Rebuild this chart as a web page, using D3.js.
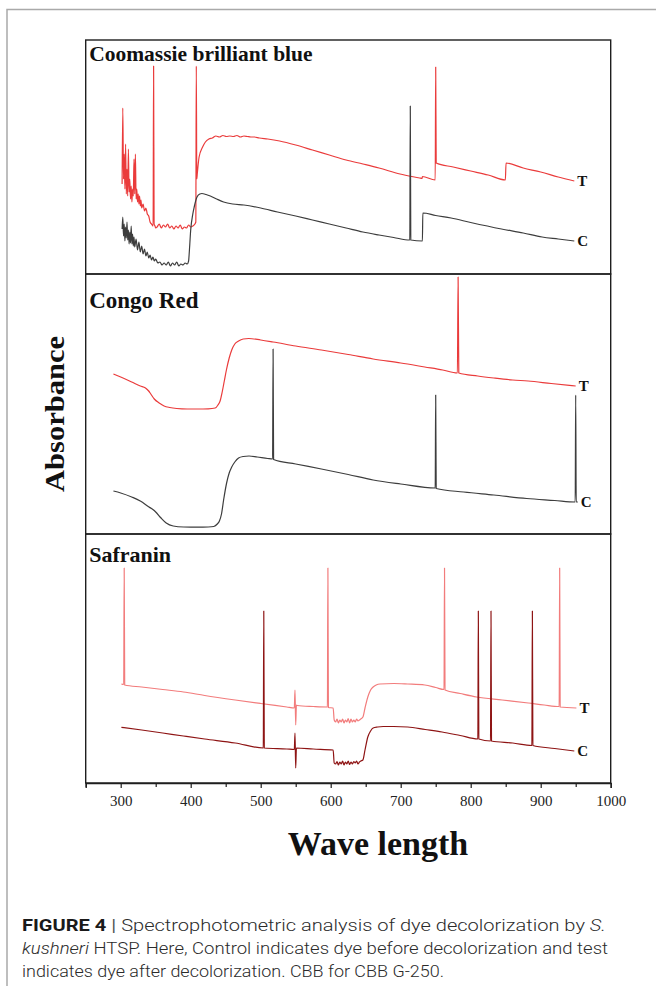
<!DOCTYPE html>
<html>
<head>
<meta charset="utf-8">
<script src="https://cdn.jsdelivr.net/npm/d3@7"></script>
<style>
  html, body { margin: 0; padding: 0; background: #fff; }
  svg { display: block; }
</style>
</head>
<body>
<svg id="fig" width="656" height="986"></svg>
<script>
// ---- data: [wavelength (nm), absorbance (a.u.)] ----
const cbbTest = [[302,0.90],[303,1.66],[304,0.95],[305,1.20],[306,0.85],[307,1.30],[308,0.80],[309,1.05],[310,0.78],[311,1.25],[312,0.82],[313,0.95],[314,0.75],[315,0.88],[316,0.72],[317,0.85],[318,0.78],[319,1.15],[320,0.80],[321,1.20],[322,0.75],[323,0.85],[324,0.72],[325,0.80],[326,0.70],[327,0.78],[328,0.68],[329,0.74],[330,0.66],[332,0.70],[334,0.63],[336,0.66],[338,0.60],[340,0.58],[342,0.52],[344,0.50],[345,0.49],[346.3,0.48],[347,2.08],[347.7,0.50],[349,0.48],[350,0.46],[352,0.47],[355,0.50],[358,0.46],[361,0.49],[364,0.47],[367,0.50],[370,0.46],[373,0.48],[376,0.45],[379,0.48],[382,0.46],[385,0.49],[388,0.45],[391,0.47],[394,0.46],[397,0.49],[400,0.47],[403,0.48],[406,0.50],[407.3,0.52],[408,2.08],[408.7,0.95],[409.5,1.01],[412,1.17],[417,1.27],[421,1.32],[426,1.35],[431,1.36],[436,1.38],[441,1.37],[446,1.385],[451,1.375],[456,1.38],[461,1.375],[466,1.385],[471,1.37],[476,1.38],[481,1.375],[486,1.37],[491,1.37],[498,1.36],[510,1.35],[527,1.33],[550,1.29],[574,1.24],[598,1.19],[622,1.14],[646,1.10],[669,1.06],[699,1.00],[727,0.96],[730.5,0.955],[731,0.975],[749.3,0.94],[750,2.07],[750.7,1.11],[775,1.07],[800,1.03],[825,0.99],[849.5,0.94],[850.5,1.11],[875,1.06],[900,1.02],[925,0.97],[948,0.93]];
const cbbControl = [[302,0.45],[303,0.57],[304,0.38],[305,0.50],[306,0.33],[307,0.47],[308,0.36],[309,0.52],[310,0.34],[311,0.44],[312,0.30],[313,0.42],[314,0.31],[315,0.48],[316,0.30],[317,0.40],[318,0.28],[319,0.37],[320,0.27],[322,0.35],[324,0.24],[326,0.32],[328,0.22],[330,0.28],[332,0.20],[334,0.25],[336,0.18],[338,0.22],[340,0.16],[342,0.19],[344,0.14],[346,0.17],[348,0.13],[350,0.15],[353,0.11],[356,0.12],[359,0.09],[362,0.11],[365,0.09],[368,0.12],[371,0.08],[374,0.11],[377,0.09],[380,0.12],[383,0.08],[386,0.10],[389,0.09],[392,0.11],[395,0.10],[397,0.13],[398,0.22],[400,0.44],[403,0.60],[405,0.67],[409,0.77],[413,0.80],[416,0.805],[422,0.795],[428,0.78],[437,0.75],[447,0.72],[460,0.70],[476,0.69],[500,0.66],[524,0.62],[550,0.58],[574,0.54],[598,0.50],[622,0.46],[646,0.42],[669,0.39],[690,0.365],[713,0.34],[713.7,1.68],[714.4,0.34],[731,0.33],[731.6,0.61],[750,0.585],[772,0.56],[800,0.515],[844,0.45],[875,0.41],[902,0.37],[925,0.35],[948,0.33]];

const congoTest = [[289.6,1.60],[300,1.57],[315.7,1.52],[328,1.48],[335.4,1.46],[340,1.43],[343,1.40],[348,1.35],[355,1.31],[362,1.28],[370,1.265],[380,1.255],[395,1.25],[410,1.25],[425,1.252],[435,1.26],[439,1.29],[442,1.33],[445,1.42],[448,1.53],[451,1.64],[455,1.76],[458.6,1.84],[463,1.90],[468.4,1.93],[475,1.95],[483,1.955],[500,1.94],[517.7,1.92],[550,1.88],[586.7,1.84],[625,1.795],[660.6,1.75],[700,1.71],[734.4,1.67],[760,1.64],[781,1.61],[782,2.57],[783,1.61],[810,1.58],[833,1.56],[860,1.54],[882,1.53],[915,1.505],[950,1.48]];
const congoControl = [[289.6,0.43],[300,0.41],[315.7,0.37],[328,0.33],[340.4,0.27],[346,0.245],[350,0.22],[357.6,0.16],[365,0.11],[375,0.08],[390,0.07],[410,0.068],[425,0.07],[433,0.075],[438,0.10],[441,0.13],[444,0.20],[447,0.34],[451.3,0.51],[455,0.61],[458.6,0.67],[463,0.72],[468.4,0.76],[475,0.775],[483.3,0.78],[495,0.77],[510,0.755],[517,0.75],[517.7,1.85],[518.4,0.745],[550,0.70],[586.7,0.65],[625,0.595],[660.6,0.54],[700,0.50],[749.3,0.46],[750,1.39],[750.7,0.455],[790,0.42],[833,0.39],[880,0.355],[920,0.335],[949.3,0.32],[950,1.39],[950.7,0.32],[953,0.32]];

const safTest = [[301,0.99],[304.3,0.985],[305,2.15],[305.7,0.98],[330,0.96],[360,0.935],[389.6,0.91],[420,0.875],[463.6,0.83],[500,0.795],[537.4,0.76],[548,0.75],[549,0.93],[550,0.58],[551,0.78],[552,0.775],[575,0.765],[595.3,0.76],[596,2.15],[596.7,0.755],[603.5,0.75],[605,0.63],[607,0.61],[609,0.64],[611,0.60],[613,0.63],[615,0.61],[617,0.64],[619,0.60],[621,0.63],[623,0.61],[625,0.645],[627,0.60],[629,0.64],[631,0.61],[633,0.63],[635,0.61],[637,0.64],[639,0.62],[641,0.63],[643,0.64],[646,0.66],[649,0.75],[653,0.86],[657,0.93],[660.6,0.96],[665,0.98],[670.4,0.99],[690,0.995],[710,0.99],[734.4,0.98],[750,0.955],[761.9,0.935],[762.6,2.15],[763.3,0.93],[785,0.895],[808.4,0.86],[845,0.83],[882.3,0.80],[905,0.78],[926.4,0.765],[927.1,2.15],[927.8,0.76],[951,0.75]];
const safControl = [[301,0.557],[330,0.53],[360,0.50],[389.6,0.47],[420,0.44],[463.6,0.40],[503.7,0.35],[504.4,1.72],[505.1,0.35],[537.4,0.34],[548,0.335],[549,0.50],[550,0.15],[551,0.35],[575,0.34],[603.5,0.33],[605,0.20],[607,0.19],[609,0.215],[611,0.18],[613,0.21],[615,0.19],[617,0.22],[619,0.18],[621,0.21],[623,0.19],[625,0.22],[627,0.185],[629,0.21],[631,0.19],[633,0.215],[635,0.20],[637,0.22],[639,0.19],[641,0.21],[643,0.22],[646,0.23],[649,0.33],[653,0.46],[657,0.52],[660.6,0.55],[667,0.56],[675,0.565],[690,0.565],[709.9,0.56],[735,0.535],[759,0.51],[785,0.475],[810.2,0.44],[810.9,1.72],[811.6,0.44],[828.3,0.42],[829,1.72],[829.7,0.42],[860,0.40],[887.4,0.375],[888.1,1.72],[888.8,0.375],[920,0.345],[948,0.32]];

const majorTicks = [300, 400, 500, 600, 700, 800, 900, 1000];
const minorTicks = [250, 350, 450, 550, 650, 750, 850, 950];
const panelTitles = ['Coomassie brilliant blue', 'Congo Red', 'Safranin'];
const seriesNames = ['T', 'C'];

// ---- layout ----
const svg = d3.select('#fig');
const serif = '"Liberation Serif", "Times New Roman", serif';
const x = d3.scaleLinear().domain([250, 1000]).range([85.7, 610.7]);

const panels = [
  { title: panelTitles[0], top: 40,  bottom: 274, ymax: 2.34, size: 21.5, ty: 60.5,
    series: [cbbTest, cbbControl], colors: ['#ea3b3b', '#3d3d3d'] },
  { title: panelTitles[1], top: 274, bottom: 534, ymax: 2.60, size: 23, ty: 308,
    series: [congoTest, congoControl], colors: ['#ea3b3b', '#3d3d3d'] },
  { title: panelTitles[2], top: 534, bottom: 783, ymax: 2.49, size: 22, ty: 561.5,
    series: [safTest, safControl], colors: ['#f27c7c', '#8e1414'] }
];

// outer frame (grey, top + left)
svg.append('path')
  .attr('d', 'M7,986 V9.5 H656')
  .attr('fill', 'none')
  .attr('stroke', '#a9a9a9')
  .attr('stroke-width', 1.5);

panels.forEach(p => {
  const y = d3.scaleLinear().domain([0, p.ymax]).range([p.bottom, p.top]);
  const g = svg.append('g');

  g.append('rect')
    .attr('x', x(250)).attr('y', p.top)
    .attr('width', x(1000) - x(250)).attr('height', p.bottom - p.top)
    .attr('fill', 'none').attr('stroke', '#1e1e1e').attr('stroke-width', 1.4);

  g.append('text')
    .attr('x', x(250) + 3.5).attr('y', p.ty)
    .attr('font-family', serif).attr('font-weight', 'bold')
    .attr('font-size', p.size).attr('fill', '#111')
    .text(p.title);

  const line = d3.line()
    .x(d => x(d[0]))
    .y(d => y(d[1]))
    .curve(d3.curveMonotoneX);

  p.series.forEach((s, i) => {
    g.append('path')
      .datum(s)
      .attr('d', line)
      .attr('fill', 'none')
      .attr('stroke', p.colors[i])
      .attr('stroke-width', 1.2)
      .attr('stroke-linejoin', 'round');

    const last = s[s.length - 1];
    g.append('text')
      .attr('x', x(last[0]) + 3)
      .attr('y', y(last[1]) + 5)
      .attr('font-family', serif).attr('font-weight', 'bold')
      .attr('font-size', 15).attr('fill', '#111')
      .text(seriesNames[i]);
  });
});

// x axis on the bottom panel
const axisY = panels[2].bottom;
const ax = svg.append('g')
  .attr('transform', `translate(0,${axisY})`)
  .call(d3.axisBottom(x).tickValues(majorTicks).tickSize(5).tickPadding(7).tickFormat(d3.format('d')));
ax.select('.domain').attr('stroke', '#1e1e1e').attr('stroke-width', 1.4);
ax.selectAll('.tick line').attr('stroke', '#1e1e1e').attr('stroke-width', 1.2);
ax.selectAll('.tick text')
  .attr('font-family', serif).attr('font-size', 15).attr('fill', '#222');

const axMinor = svg.append('g')
  .attr('transform', `translate(0,${axisY})`)
  .call(d3.axisBottom(x).tickValues(minorTicks).tickSize(4).tickFormat(''));
axMinor.select('.domain').remove();
axMinor.selectAll('.tick line').attr('stroke', '#1e1e1e').attr('stroke-width', 1.2);

// axis titles
svg.append('text')
  .attr('x', 378).attr('y', 855)
  .attr('text-anchor', 'middle')
  .attr('font-family', serif).attr('font-weight', 'bold')
  .attr('font-size', 34).attr('fill', '#111')
  .text('Wave length');

svg.append('text')
  .attr('transform', 'translate(64,414) rotate(-90)')
  .attr('text-anchor', 'middle')
  .attr('font-family', serif).attr('font-weight', 'bold')
  .attr('font-size', 27).attr('fill', '#111')
  .attr('textLength', 156).attr('lengthAdjust', 'spacingAndGlyphs')
  .text('Absorbance');

// caption
const capFont = 'Roboto, "Liberation Sans", sans-serif';
const capLines = [
  [['FIGURE 4', 'b'], [' | ', 'sep'], ['Spectrophotometric analysis of dye decolorization by ', ''], ['S.', 'i']],
  [['kushneri', 'i'], [' HTSP. Here, Control indicates dye before decolorization and test', '']],
  [['indicates dye after decolorization. CBB for CBB G-250.', '']]
];
const capBase = [931, 954, 977];
const capWidth = [584, 586, 422];
capLines.forEach((parts, li) => {
  const t = svg.append('text')
    .attr('x', 22).attr('y', capBase[li])
    .attr('font-family', capFont).attr('font-weight', 300)
    .attr('font-size', 16.5).attr('fill', '#2b2b2b')
    .attr('textLength', capWidth[li]).attr('lengthAdjust', 'spacingAndGlyphs');
  parts.forEach(([str, kind]) => {
    const ts = t.append('tspan').text(str);
    if (kind === 'b') ts.attr('font-weight', 'bold').attr('fill', '#1a1a1a');
    if (kind === 'i') ts.attr('font-style', 'italic');
    if (kind === 'sep') ts.attr('fill', '#555').attr('font-weight', 400);
  });
});
</script>
</body>
</html>
